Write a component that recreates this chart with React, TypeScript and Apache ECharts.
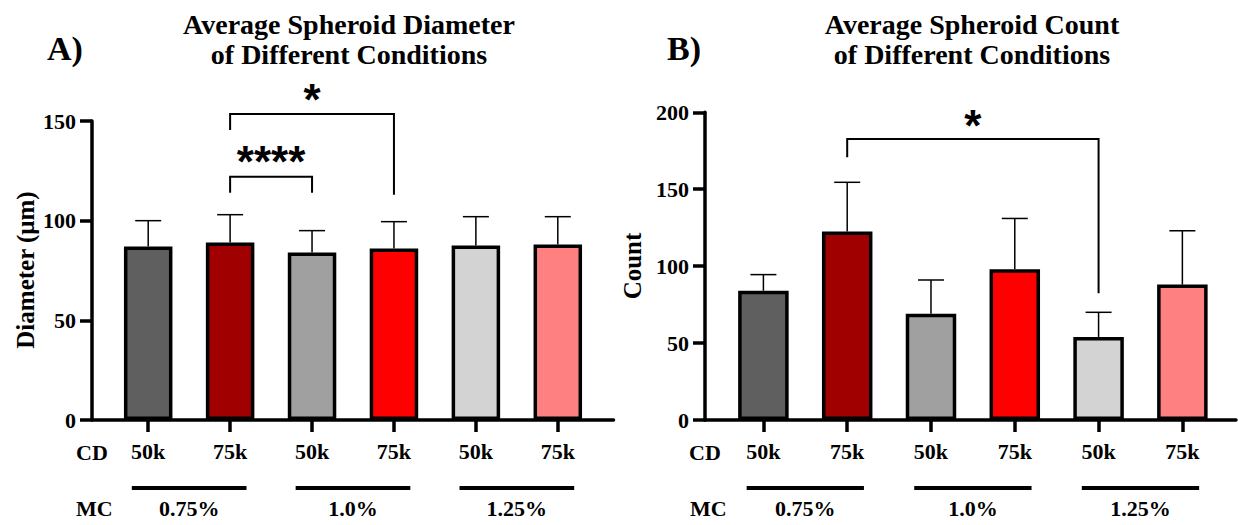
import React, { useEffect, useRef } from "react";
import * as echarts from "echarts";

// ---- data ----
const cdLabels = ["50k", "75k", "50k", "75k", "50k", "75k"];
const mcGroups = ["0.75%", "1.0%", "1.25%"];
const mcGroupSpans = [
  [0, 1],
  [2, 3],
  [4, 5],
];
const barColors = ["#5f5f5f", "#a00000", "#a0a0a0", "#ff0000", "#d3d3d3", "#ff8080"];

const diameterMean = [87, 89, 84, 86, 87.5, 88];
const diameterUpper = [100, 103, 95, 99.5, 102, 102];
const countMean = [84, 122.5, 69, 98, 54, 88];
const countUpper = [94.5, 154.5, 91, 131, 70, 123];

const diameterTicks = [0, 50, 100, 150];
const countTicks = [0, 50, 100, 150, 200];

// significance brackets: [from, to, topValue, fromLegEnd, toLegEnd, markValue]
const diameterSig = [
  [1, 3, 153.5, 145.5, 113, 164.5],
  [1, 2, 122, 114, 114, 133],
];
const diameterSigMarks = ["*", "****"];
const countSig = [[1, 4, 182.6, 170.8, 82.4, 196]];
const countSigMarks = ["*"];

const SERIF = '"Liberation Serif", "Times New Roman", serif';
const catIdx = [0, 1, 2, 3, 4, 5];

function xAxisDef(gridIndex: number, min: number, max: number) {
  return {
    type: "value",
    gridIndex,
    min,
    max,
    splitLine: { show: false },
    axisLine: { show: true, onZero: false, lineStyle: { color: "#000", width: 3.5 } },
    axisTick: { show: true, customValues: catIdx, length: 12, lineStyle: { color: "#000", width: 3.5 } },
    axisLabel: {
      customValues: catIdx,
      formatter: (v: number) => cdLabels[Math.round(v)] ?? "",
      margin: 20,
      fontFamily: SERIF,
      fontWeight: "bold",
      fontSize: 22,
      color: "#000",
    },
  };
}

function yAxisDef(gridIndex: number, ticks: number[]) {
  return {
    type: "value",
    gridIndex,
    min: ticks[0],
    max: ticks[ticks.length - 1],
    interval: ticks[1] - ticks[0],
    splitLine: { show: false },
    axisLine: { show: true, onZero: false, lineStyle: { color: "#000", width: 3.5 } },
    axisTick: { show: true, length: 12, lineStyle: { color: "#000", width: 3.5 } },
    axisLabel: { margin: 16, fontFamily: SERIF, fontWeight: "bold", fontSize: 22, color: "#000" },
  };
}

function barSeries(idx: number, means: number[], width: number) {
  return {
    type: "bar",
    xAxisIndex: idx,
    yAxisIndex: idx,
    barWidth: width,
    z: 3,
    itemStyle: { borderColor: "#000", borderWidth: 3.5 },
    data: means.map((v, i) => ({ value: [i, v], itemStyle: { color: barColors[i] } })),
  };
}

function errorSeries(idx: number, means: number[], uppers: number[]) {
  return {
    type: "custom",
    xAxisIndex: idx,
    yAxisIndex: idx,
    z: 2,
    clip: false,
    data: means.map((m, i) => [i, m, uppers[i]]),
    renderItem: (params: any, api: any) => {
      const x = api.value(0);
      const p1 = api.coord([x, api.value(1)]);
      const p2 = api.coord([x, api.value(2)]);
      const st = { stroke: "#000", lineWidth: 1.5 };
      return {
        type: "group",
        children: [
          { type: "line", shape: { x1: p1[0], y1: p1[1], x2: p2[0], y2: p2[1] }, style: st },
          { type: "line", shape: { x1: p2[0] - 13, y1: p2[1], x2: p2[0] + 13, y2: p2[1] }, style: st },
        ],
      };
    },
  };
}

function sigSeries(idx: number, sig: number[][], marks: string[]) {
  return {
    type: "custom",
    xAxisIndex: idx,
    yAxisIndex: idx,
    z: 4,
    clip: false,
    data: sig,
    renderItem: (params: any, api: any) => {
      const a = api.value(0);
      const b = api.value(1);
      const top = api.value(2);
      const pa = api.coord([a, api.value(3)]);
      const pat = api.coord([a, top]);
      const pbt = api.coord([b, top]);
      const pb = api.coord([b, api.value(4)]);
      const pm = api.coord([(a + b) / 2, api.value(5)]);
      return {
        type: "group",
        children: [
          {
            type: "polyline",
            shape: { points: [pa, pat, pbt, pb] },
            style: { stroke: "#000", lineWidth: 2, fill: null },
          },
          {
            type: "text",
            style: {
              text: marks[params.dataIndex],
              x: pm[0],
              y: pm[1] + 7,
              align: "center",
              verticalAlign: "middle",
              font: 'bold 44px "Liberation Sans", Arial, sans-serif',
              fill: "#000",
            },
          },
        ],
      };
    },
  };
}

function groupSeries(idx: number) {
  return {
    type: "custom",
    xAxisIndex: idx,
    yAxisIndex: idx,
    clip: false,
    data: mcGroupSpans.map((s) => [s[0], s[1]]),
    renderItem: (params: any, api: any) => {
      const a = api.value(0);
      const b = api.value(1);
      const p1 = api.coord([a - 0.2, 0]);
      const p2 = api.coord([b + 0.2, 0]);
      return {
        type: "group",
        children: [
          {
            type: "line",
            shape: { x1: p1[0], y1: p1[1] + 68, x2: p2[0], y2: p2[1] + 68 },
            style: { stroke: "#000", lineWidth: 4 },
          },
          {
            type: "text",
            style: {
              text: mcGroups[params.dataIndex],
              x: (p1[0] + p2[0]) / 2,
              y: p1[1] + 88,
              align: "center",
              verticalAlign: "middle",
              font: `bold 22px ${SERIF}`,
              fill: "#000",
            },
          },
        ],
      };
    },
  };
}

function txt(text: string, x: number, y: number, size: number, align = "left", rotation = 0) {
  return {
    type: "text",
    x,
    y,
    rotation,
    style: {
      text,
      align,
      verticalAlign: "middle",
      font: `bold ${size}px ${SERIF}`,
      fill: "#000",
    },
  };
}

export default function App() {
  const ref = useRef<HTMLDivElement>(null);
  useEffect(() => {
    if (!ref.current) return;
    const chart = echarts.init(ref.current, undefined, { renderer: "svg" });
    const titleStyle = { fontFamily: SERIF, fontWeight: "bold", fontSize: 28, lineHeight: 30, color: "#000" };
    chart.setOption({
      animation: false,
      backgroundColor: "#fff",
      title: [
        { text: "Average Spheroid Diameter\nof Different Conditions", left: 349, top: 9, padding: 0, textAlign: "center", textStyle: titleStyle },
        { text: "Average Spheroid Count\nof Different Conditions", left: 972, top: 9, padding: 0, textAlign: "center", textStyle: titleStyle },
      ],
      grid: [
        { left: 92, top: 121, width: 521.5, height: 299 },
        { left: 705, top: 112.3, width: 531, height: 307.7 },
      ],
      xAxis: [xAxisDef(0, -0.686, 5.68), xAxisDef(1, -0.697, 5.64)],
      yAxis: [yAxisDef(0, diameterTicks), yAxisDef(1, countTicks)],
      series: [
        errorSeries(0, diameterMean, diameterUpper),
        barSeries(0, diameterMean, 48.5),
        sigSeries(0, diameterSig, diameterSigMarks),
        groupSeries(0),
        errorSeries(1, countMean, countUpper),
        barSeries(1, countMean, 50.5),
        sigSeries(1, countSig, countSigMarks),
        groupSeries(1),
      ],
      graphic: [
        txt("A)", 47, 48, 34),
        txt("B)", 667, 48, 34),
        txt("Diameter (μm)", 25, 270, 25, "center", Math.PI / 2),
        txt("Count", 632, 266, 25, "center", Math.PI / 2),
        txt("CD", 76, 452, 22),
        txt("MC", 76, 508, 22),
        txt("CD", 689, 452, 22),
        txt("MC", 690, 508, 22),
      ],
    });
    return () => chart.dispose();
  }, []);
  return <div ref={ref} style={{ position: "absolute", left: 0, top: 0, width: 1238, height: 525 }} />;
}
